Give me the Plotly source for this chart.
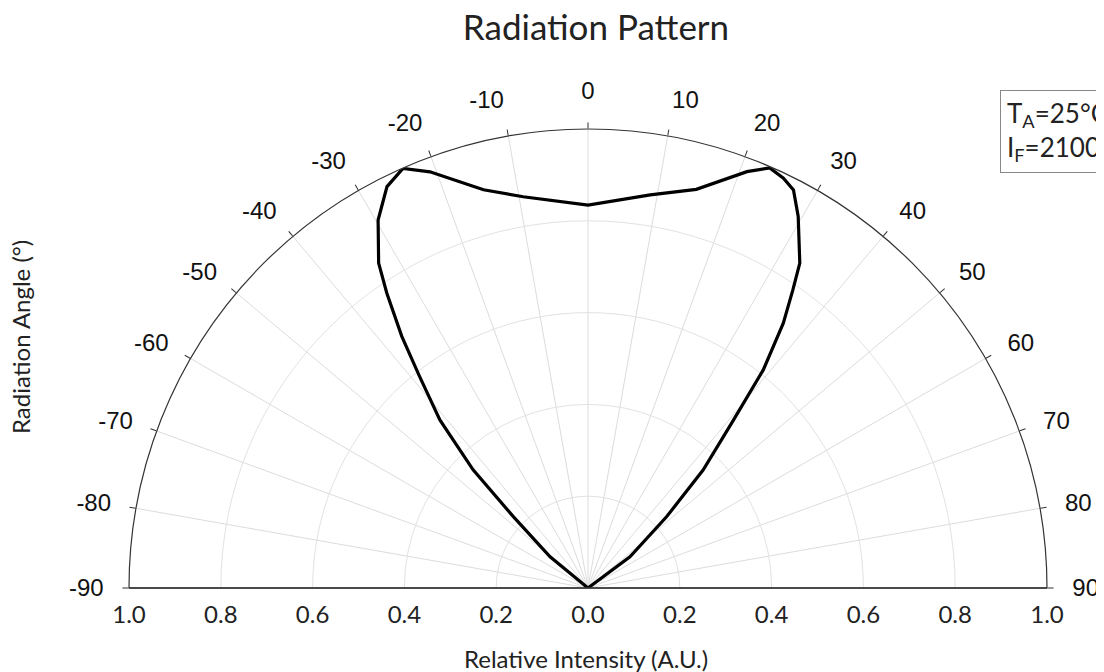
import plotly.graph_objects as go

# Radiation angle (deg) and relative intensity
angle_deg = [-60, -50.5, -46.3, -44.2, -41.4, -38.5, -36.5, -34.3, -32.8, -29.7,
             -26.6, -23.8, -20.8, -14.7, -9.4, 0, 9.0, 15.2, 20.9, 23.4,
             25.5, 27.3, 29.5, 33.1, 34.5, 36.4, 38.8, 40.9, 44.3, 47.8, 53.3, 60]
intensity = [0.0, 0.107, 0.225, 0.359, 0.488, 0.590, 0.682, 0.778, 0.842, 0.923,
             0.978, 0.999, 0.970, 0.897, 0.864, 0.834, 0.867, 0.900, 0.971, 0.997,
             0.989, 0.976, 0.930, 0.845, 0.788, 0.717, 0.609, 0.484, 0.359, 0.231, 0.114, 0.0]

angle_ticks = list(range(-90, 91, 10))
angle_tick_labels = [str(a) for a in angle_ticks]
intensity_ticks = [-1.0, -0.8, -0.6, -0.4, -0.2, 0.0, 0.2, 0.4, 0.6, 0.8, 1.0]
intensity_tick_labels = ["1.0", "0.8", "0.6", "0.4", "0.2", "0.0", "0.2", "0.4", "0.6", "0.8", "1.0"]
radial_grid = [0.2, 0.4, 0.6, 0.8, 1.0]

W, H = 1104, 672
OFF = 8  # page body margin
cx, cy, R = 588 - OFF, 588 - OFF, 459
dom_x = [(cx - R) / W, (cx + R) / W]
dom_y = [(H - cy) / H, (H - cy + R) / H]

def px(x):
    return (x - OFF) / W

def py(y):
    return (H - (y - OFF)) / H

txt_family = "Lato, 'Open Sans', sans-serif"
label_font = dict(family=txt_family, size=24, color="#222")
ang_font = dict(family="Liberation Sans, Arial, sans-serif", size=24, color="#111")

fig = go.Figure()
# invisible helper trace so the cartesian intensity axis is drawn
fig.add_trace(go.Scatter(x=[intensity_ticks[0], intensity_ticks[-1]], y=[0, 0], mode="lines",
                         line=dict(width=0), showlegend=False, hoverinfo="skip"))
fig.add_trace(go.Scatterpolar(r=intensity, theta=angle_deg, mode="lines",
                              line=dict(color="black", width=3.2),
                              showlegend=False, subplot="polar"))
fig.add_trace(go.Scatterpolar(r=[0], theta=[0], mode="lines", line=dict(width=0),
                              showlegend=False, hoverinfo="skip", subplot="polar2"))

common_ang = dict(rotation=90, direction="clockwise", thetaunit="degrees",
                  tickmode="array", tickvals=angle_ticks)

fig.update_layout(
    width=W, height=H,
    margin=dict(l=0, r=0, t=0, b=0, pad=0, autoexpand=False),
    paper_bgcolor="white",
    plot_bgcolor="rgba(0,0,0,0)",
    title=dict(text="Radiation Pattern", x=px(596), xanchor="center", y=py(28), yanchor="middle",
               font=dict(family=txt_family, size=35, color="#222"), automargin=False),
    xaxis=dict(domain=dom_x, range=[-1, 1], tickmode="array", tickvals=intensity_ticks,
               ticktext=intensity_tick_labels, showgrid=False, zeroline=False, showline=False,
               ticks="", ticklabelstandoff=10, tickfont=label_font, fixedrange=True,
               automargin=False),
    yaxis=dict(domain=dom_y, range=[0, 1], visible=False, fixedrange=True, automargin=False),
    polar=dict(
        domain=dict(x=dom_x, y=dom_y),
        sector=[0, 180],
        bgcolor="white",
        angularaxis=dict(**common_ang, ticktext=angle_tick_labels,
                         ticks="outside", ticklen=20, tickcolor="rgba(0,0,0,0)",
                         showline=False, showgrid=True, gridcolor="#dcdcdc", gridwidth=1,
                         tickfont=ang_font),
        radialaxis=dict(range=[0, 1], angle=0, tickmode="array", tickvals=radial_grid,
                        showticklabels=False, ticks="",
                        showline=True, linecolor="#333", linewidth=1.5,
                        showgrid=True, gridcolor="#e2e2e2", gridwidth=1),
    ),
    polar2=dict(
        domain=dict(x=dom_x, y=dom_y),
        sector=[0, 180],
        bgcolor="rgba(0,0,0,0)",
        angularaxis=dict(**common_ang, ticktext=[""] * len(angle_ticks),
                         ticks="outside", ticklen=6, tickcolor="#333", tickwidth=1,
                         showline=True, linecolor="#333", linewidth=1.2,
                         showgrid=False),
        radialaxis=dict(range=[0, 1], angle=180, showticklabels=False, ticks="",
                        showline=True, linecolor="#333", linewidth=1.5, showgrid=False),
    ),
    annotations=[
        dict(text="Relative Intensity (A.U.)", x=px(586), y=py(658),
             xref="paper", yref="paper", xanchor="center", yanchor="middle",
             showarrow=False, font=dict(family=txt_family, size=24, color="#222")),
        dict(text="Radiation Angle (°)", x=px(20), y=py(337), textangle=-90,
             xref="paper", yref="paper", xanchor="center", yanchor="middle",
             showarrow=False, font=dict(family=txt_family, size=24, color="#222")),
        dict(text="T<sub>A</sub>=25°C<br>I<sub>F</sub>=2100mA", x=px(1000), y=py(90),
             xref="paper", yref="paper", xanchor="left", yanchor="top", align="left",
             showarrow=False, bordercolor="#888", borderwidth=1, borderpad=6, bgcolor="white",
             font=dict(family=txt_family, size=26, color="#222")),
    ],
)

fig.write_html("out.html")
